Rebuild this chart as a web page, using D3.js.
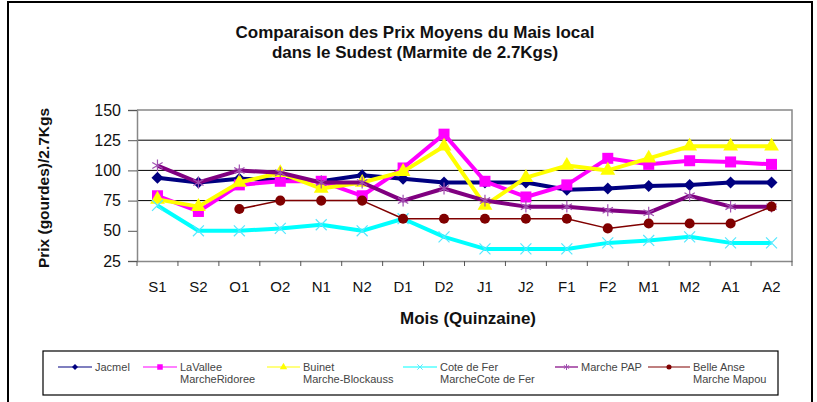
<!DOCTYPE html>
<html>
<head>
<meta charset="utf-8">
<script src="https://cdn.jsdelivr.net/npm/d3@7"></script>
<style>
  body { margin: 0; background: #fff; }
  svg { display: block; font-family: "Liberation Sans", Arial, sans-serif; }
</style>
</head>
<body>
<svg id="chart" width="817" height="402"></svg>
<script>
// data
const periods = ["S1", "S2", "O1", "O2", "N1", "N2", "D1", "D2", "J1", "J2", "F1", "F2", "M1", "M2", "A1", "A2"];
const jacmel = [94, 90, 93, 92, 91, 96, 93, 90, 90, 90, 84, 85, 87, 88, 90, 90];
const lavallee = [79, 66, 88, 91, 91, 79, 102, 130, 91, 78, 88, 110, 105, 108, 107, 105];
const buinet = [76, 70, 90, 98, 85, 90, 99, 120, 71, 94, 104, 100, 110, 120, 120, 120];
const coteDeFer = [71, 50, 50, 52, 55, 50, 60, 45, 35, 35, 35, 40, 42, 45, 40, 40];
const marchePap = [104, 90, 100, 98, 90, 90, 75, 85, 75, 70, 70, 67, 65, 79, 70, 70];
const belleAnse = [null, null, 68, 75, 75, 75, 60, 60, 60, 60, 60, 52, 56, 56, 56, 70];
const yTicks = [25, 50, 75, 100, 125, 150];
const gridValues = [75, 100, 125];

const series = [
  { name: ["Jacmel"], values: jacmel, color: "#000080", width: 4, symbol: d3.symbolSquare, size: 72, rotate: 45, fill: true },
  { name: ["LaVallee", "MarcheRidoree"], values: lavallee, color: "#ff00ff", width: 4, symbol: d3.symbolSquare, size: 121, rotate: 0, fill: true },
  { name: ["Buinet", "Marche-Blockauss"], values: buinet, color: "#ffff00", width: 4, symbol: d3.symbolTriangle, size: 95, rotate: 0, fill: true },
  { name: ["Cote de Fer", "MarcheCote de Fer"], values: coteDeFer, color: "#00ffff", width: 4, symbol: d3.symbolX, size: 80, rotate: 0, fill: false, mark: "#55e8ff" },
  { name: ["Marche PAP"], values: marchePap, color: "#800080", width: 4, symbol: d3.symbolAsterisk, size: 100, rotate: 0, fill: false, mark: "#a050b0" },
  { name: ["Belle Anse", "Marche Mapou"], values: belleAnse, color: "#800000", width: 1.5, symbol: d3.symbolCircle, size: 80, rotate: 0, fill: true }
];

const svg = d3.select("svg#chart");

// outer frame
svg.append("rect")
  .attr("x", 8).attr("y", 2)
  .attr("width", 804).attr("height", 420)
  .attr("fill", "none").attr("stroke", "#000").attr("stroke-width", 2);

//title
const title = svg.append("text")
  .attr("text-anchor", "middle")
  .attr("font-weight", "bold")
  .attr("font-size", 17)
  .attr("fill", "#111");
title.append("tspan").attr("x", 415).attr("y", 38).text("Comparaison des Prix Moyens du Mais local");
title.append("tspan").attr("x", 415).attr("y", 58).text("dans le Sudest (Marmite de 2.7Kgs)");

//plot area
const plot = { left: 137, right: 792, top: 110, bottom: 261 };

const xScale = d3.scaleBand()
  .domain(periods)
  .range([plot.left, plot.right]);

const yScale = d3.scaleLinear()
  .domain([25, 150])
  .range([plot.bottom, plot.top]);

// gridlines
svg.append("g")
  .selectAll("line")
  .data(gridValues)
  .join("line")
  .attr("x1", plot.left).attr("x2", plot.right)
  .attr("y1", d => yScale(d)).attr("y2", d => yScale(d))
  .attr("stroke", "#000").attr("stroke-width", 1);

// plot border top / right
svg.append("path")
  .attr("d", `M${plot.left},${plot.top}H${plot.right}V${plot.bottom}`)
  .attr("fill", "none").attr("stroke", "#888").attr("stroke-width", 1.5);

// y axis
const yAxis = svg.append("g")
  .attr("transform", `translate(${plot.left},0)`)
  .call(d3.axisLeft(yScale).tickValues(yTicks).tickSize(9).tickPadding(7));
yAxis.select(".domain").attr("stroke", "#888").attr("stroke-width", 1.5);
yAxis.selectAll(".tick line").attr("stroke", "#555");
yAxis.selectAll("text").attr("font-size", 16).attr("fill", "#111")
  .attr("font-family", "Liberation Sans, Arial, sans-serif");

// x axis
const xAxis = svg.append("g")
  .attr("transform", `translate(0,${plot.bottom})`)
  .call(d3.axisBottom(xScale).tickSize(0).tickPadding(20));
xAxis.select(".domain").attr("stroke", "#888").attr("stroke-width", 1.5);
xAxis.selectAll("text").attr("font-size", 15).attr("fill", "#111")
  .attr("font-family", "Liberation Sans, Arial, sans-serif");
svg.append("g")
  .selectAll("line")
  .data(periods.concat(["end"]))
  .join("line")
  .attr("x1", (d, i) => plot.left + i * xScale.step())
  .attr("x2", (d, i) => plot.left + i * xScale.step())
  .attr("y1", plot.bottom).attr("y2", plot.bottom + 5)
  .attr("stroke", "#555");

// axis titles
svg.append("text")
  .attr("x", 468).attr("y", 324)
  .attr("text-anchor", "middle")
  .attr("font-weight", "bold").attr("font-size", 17).attr("fill", "#111")
  .text("Mois (Quinzaine)");

svg.append("text")
  .attr("transform", "translate(49,188) rotate(-90)")
  .attr("text-anchor", "middle")
  .attr("font-weight", "bold").attr("font-size", 15.5).attr("fill", "#111")
  .text("Prix (gourdes)/2.7Kgs");

//line generator
const cx = d => xScale(d) + xScale.bandwidth() / 2;
const lineGenerator = d3.line()
  .defined(d => d.v != null)
  .x(d => cx(d.p))
  .y(d => yScale(d.v));

series.forEach(s => {
  const pts = periods.map((p, i) => ({ p: p, v: s.values[i] }));
  const g = svg.append("g");
  g.append("path")
    .attr("d", lineGenerator(pts))
    .attr("fill", "none")
    .attr("stroke", s.color)
    .attr("stroke-width", s.width)
    .attr("stroke-linejoin", "round");
  g.selectAll("path.mark")
    .data(pts.filter(d => d.v != null))
    .join("path")
    .attr("class", "mark")
    .attr("transform", d => `translate(${cx(d.p)},${yScale(d.v)}) rotate(${s.rotate})`)
    .attr("d", d3.symbol(s.symbol, s.size))
    .attr("fill", s.fill ? s.color : "none")
    .attr("stroke", s.fill ? "none" : s.mark)
    .attr("stroke-width", 1.2);
});

// legend
const legend = svg.append("g");
legend.append("rect")
  .attr("x", 43).attr("y", 351)
  .attr("width", 735).attr("height", 44)
  .attr("fill", "#fff").attr("stroke", "#000").attr("stroke-width", 1.2);

const legendX = [58, 143, 267, 403, 555, 648];
const legendLen = [34, 34, 33, 34, 23, 42];
series.forEach((s, i) => {
  const x0 = legendX[i], x1 = legendX[i] + legendLen[i];
  const y0 = 367;
  legend.append("line")
    .attr("x1", x0).attr("x2", x1)
    .attr("y1", y0).attr("y2", y0)
    .attr("stroke", s.color).attr("stroke-width", 1.2);
  legend.append("path")
    .attr("transform", `translate(${(x0 + x1) / 2},${y0}) rotate(${s.rotate})`)
    .attr("d", d3.symbol(s.symbol, s.size / 4))
    .attr("fill", s.fill ? s.color : "none")
    .attr("stroke", s.fill ? "none" : s.mark)
    .attr("stroke-width", 1);
  const t = legend.append("text")
    .attr("font-size", 11).attr("fill", "#444");
  s.name.forEach((line, j) => {
    t.append("tspan").attr("x", x1 + 3).attr("y", y0 + 4 + j * 12).text(line);
  });
});
</script>
</body>
</html>
